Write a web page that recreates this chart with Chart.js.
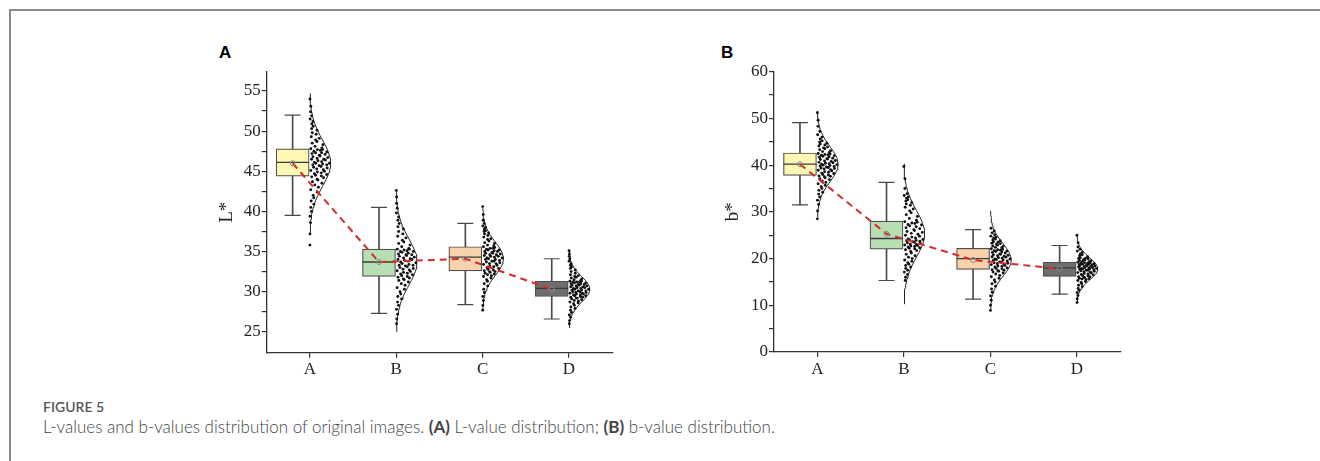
<!DOCTYPE html>
<html lang="en">
<head>
<meta charset="UTF-8">
<title>Figure 5 - L and b value distribution</title>
<script src="https://cdn.jsdelivr.net/npm/chart.js"></script>
<style>
  body { margin: 0; background: #fff; }
  .page { position: relative; width: 1320px; height: 461px; overflow: hidden; background: #fff; }
  .frame { position: absolute; left: 9px; top: 9px; width: 1330px; height: 480px;
           border-left: 2px solid #8a8a8a; border-top: 2px solid #8a8a8a; }
  canvas { position: absolute; }
  .panel { position: absolute; font: bold 17px "Liberation Sans", Arial, sans-serif; color: #000; }
  .fig { position: absolute; left: 43px; top: 398px; font: 600 14px Lato, sans-serif; color: #555; }
  .cap { position: absolute; left: 43px; top: 416px; font: 300 17px Lato, sans-serif; color: #444; white-space: nowrap; }
  .cap b { font-weight: 700; }
</style>
</head>
<body>
<div class="page">
  <div class="frame"></div>
  <div class="panel" style="left:219px; top:43px;">A</div>
  <div class="panel" style="left:721px; top:43px;">B</div>
  <canvas id="chartL" width="440" height="350" style="left:190px; top:40px;"></canvas>
  <canvas id="chartB" width="440" height="350" style="left:698px; top:40px;"></canvas>
  <div class="fig">FIGURE 5</div>
  <div class="cap">L-values and b-values distribution of original images. <b>(A)</b> L-value distribution; <b>(B)</b> b-value distribution.</div>
</div>

<script>
// groups on the x axis
const groups = ['A', 'B', 'C', 'D'];

// ---- L* panel: box statistics ----
const lTicks       = [25, 30, 35, 40, 45, 50, 55];
const lWhiskerLow  = [39.5, 27.3, 28.4, 26.6];
const lQ1          = [44.4, 31.9, 32.6, 29.4];
const lMedian      = [46.1, 33.7, 34.3, 30.4];
const lQ3          = [47.8, 35.3, 35.6, 31.3];
const lWhiskerHigh = [52.0, 40.5, 38.5, 34.1];
const lMean        = [46.0, 33.7, 34.1, 30.3];
const lSd          = [2.9, 2.9, 2.1, 1.6];

// L* raw points (estimated sample of each cloud)
const lPointsA = [35.8, 37.2, 38.6, 39.4, 40.0, 40.5, 40.9, 41.3, 41.7, 42.0, 42.4, 42.7, 43.0, 43.3, 43.5, 43.7, 43.9, 44.0, 44.2, 44.3,
  44.4, 44.5, 44.6, 44.7, 44.8, 44.9, 45.0, 45.1, 45.2, 45.3, 45.4, 45.5, 45.6, 45.7, 45.8, 45.8, 45.9, 46.0, 46.0, 46.1,
  46.2, 46.3, 46.4, 46.5, 46.5, 46.6, 46.7, 46.8, 46.9, 47.0, 47.1, 47.2, 47.3, 47.3, 47.4, 47.5, 47.6, 47.7, 47.7, 47.8,
  47.9, 48.1, 48.3, 48.5, 48.7, 48.9, 49.1, 49.3, 49.6, 49.8, 50.1, 50.3, 50.6, 50.9, 51.2, 51.5, 51.9, 52.4, 53.1, 54.0];
const lPointsB = [26.0, 26.6, 27.2, 27.8, 28.3, 28.7, 29.1, 29.4, 29.7, 30.0, 30.3, 30.5, 30.8, 31.0, 31.2, 31.4, 31.5, 31.6, 31.7, 31.8,
  31.9, 32.0, 32.1, 32.2, 32.3, 32.4, 32.5, 32.6, 32.7, 32.8, 32.9, 33.0, 33.1, 33.2, 33.3, 33.3, 33.4, 33.5, 33.6, 33.7,
  33.8, 33.9, 34.0, 34.0, 34.1, 34.2, 34.3, 34.4, 34.5, 34.6, 34.6, 34.7, 34.8, 34.9, 35.0, 35.0, 35.1, 35.2, 35.3, 35.3,
  35.4, 35.6, 35.8, 36.0, 36.2, 36.4, 36.7, 36.9, 37.2, 37.5, 37.8, 38.1, 38.5, 38.9, 39.3, 39.8, 40.4, 41.0, 41.8, 42.6];
const lPointsC = [27.7, 28.3, 28.9, 29.4, 29.9, 30.3, 30.7, 31.0, 31.3, 31.5, 31.7, 31.9, 32.0, 32.1, 32.2, 32.3, 32.4, 32.5, 32.5, 32.6,
  32.7, 32.8, 32.9, 33.0, 33.1, 33.2, 33.3, 33.4, 33.5, 33.5, 33.6, 33.7, 33.8, 33.8, 33.9, 34.0, 34.0, 34.1, 34.2, 34.2,
  34.3, 34.4, 34.4, 34.5, 34.6, 34.6, 34.7, 34.8, 34.8, 34.9, 35.0, 35.0, 35.1, 35.2, 35.2, 35.3, 35.4, 35.4, 35.5, 35.6,
  35.7, 35.8, 36.0, 36.1, 36.3, 36.5, 36.6, 36.8, 37.0, 37.2, 37.3, 37.5, 37.6, 37.8, 38.0, 38.2, 38.5, 38.9, 39.6, 40.6];
const lPointsD = [26.0, 26.4, 26.8, 27.1, 27.4, 27.7, 27.9, 28.1, 28.3, 28.5, 28.6, 28.7, 28.8, 28.9, 29.0, 29.1, 29.2, 29.2, 29.3, 29.3,
  29.4, 29.5, 29.5, 29.6, 29.6, 29.7, 29.7, 29.8, 29.8, 29.9, 29.9, 30.0, 30.0, 30.1, 30.1, 30.2, 30.2, 30.3, 30.3, 30.4,
  30.4, 30.5, 30.5, 30.6, 30.6, 30.7, 30.7, 30.8, 30.8, 30.9, 30.9, 31.0, 31.0, 31.1, 31.1, 31.2, 31.2, 31.2, 31.3, 31.3,
  31.4, 31.5, 31.6, 31.7, 31.8, 31.9, 32.0, 32.1, 32.3, 32.5, 32.7, 32.9, 33.1, 33.3, 33.5, 33.8, 34.1, 34.4, 34.7, 35.1];

// ---- b* panel ----
const bTicks       = [0, 10, 20, 30, 40, 50, 60];
const bWhiskerLow  = [31.5, 15.3, 11.3, 12.4];
const bQ1          = [37.8, 22.0, 17.7, 16.2];
const bMedian      = [40.2, 24.3, 20.0, 18.0];
const bQ3          = [42.6, 28.0, 22.2, 19.2];
const bWhiskerHigh = [49.1, 36.3, 26.2, 22.8];
const bMean        = [40.2, 25.3, 19.7, 17.8];
const bSd          = [3.8, 5.0, 3.5, 2.4];

const bPointsA = [28.5, 30.2, 31.6, 32.5, 33.2, 33.8, 34.2, 34.6, 35.0, 35.4, 35.7, 36.0, 36.3, 36.6, 36.9, 37.1, 37.3, 37.5, 37.6, 37.7,
  37.9, 38.0, 38.2, 38.3, 38.5, 38.6, 38.8, 38.9, 39.0, 39.2, 39.3, 39.4, 39.5, 39.6, 39.7, 39.8, 39.9, 40.0, 40.1, 40.2,
  40.3, 40.4, 40.5, 40.6, 40.8, 40.9, 41.0, 41.2, 41.3, 41.4, 41.5, 41.7, 41.8, 41.9, 42.0, 42.1, 42.2, 42.3, 42.4, 42.5,
  42.7, 42.9, 43.1, 43.3, 43.5, 43.7, 43.9, 44.1, 44.3, 44.5, 44.7, 44.9, 45.2, 45.6, 46.0, 46.5, 47.2, 48.3, 49.6, 51.2];
const bPointsB = [15.3, 16.0, 16.6, 17.1, 17.5, 17.9, 18.2, 18.5, 18.8, 19.1, 19.4, 19.7, 20.0, 20.3, 20.6, 20.9, 21.2, 21.5, 21.7, 21.9,
  22.1, 22.2, 22.3, 22.5, 22.6, 22.7, 22.8, 22.9, 23.0, 23.1, 23.3, 23.4, 23.5, 23.6, 23.7, 23.8, 23.9, 24.0, 24.1, 24.2,
  24.4, 24.6, 24.8, 25.0, 25.2, 25.4, 25.6, 25.8, 26.0, 26.2, 26.4, 26.6, 26.8, 27.0, 27.2, 27.3, 27.5, 27.6, 27.8, 27.9,
  28.2, 28.6, 29.0, 29.4, 29.8, 30.2, 30.6, 31.0, 31.4, 31.7, 32.0, 32.3, 32.6, 32.9, 33.2, 33.5, 33.9, 35.0, 37.1, 39.7];
const bPointsC = [8.9, 10.0, 11.1, 12.0, 12.8, 13.5, 14.1, 14.6, 15.0, 15.4, 15.8, 16.1, 16.4, 16.7, 16.9, 17.1, 17.3, 17.4, 17.5, 17.6,
  17.8, 17.9, 18.0, 18.2, 18.3, 18.4, 18.5, 18.7, 18.8, 18.9, 19.0, 19.1, 19.2, 19.3, 19.5, 19.6, 19.7, 19.8, 19.9, 19.9,
  20.1, 20.2, 20.3, 20.4, 20.5, 20.6, 20.7, 20.8, 20.9, 21.0, 21.2, 21.3, 21.4, 21.5, 21.6, 21.7, 21.8, 21.9, 22.0, 22.1,
  22.3, 22.4, 22.6, 22.7, 22.9, 23.0, 23.2, 23.3, 23.5, 23.6, 23.8, 24.0, 24.2, 24.4, 24.6, 24.8, 25.1, 25.5, 25.9, 26.5];
const bPointsD = [10.6, 11.4, 12.1, 12.7, 13.2, 13.6, 14.0, 14.3, 14.6, 14.9, 15.1, 15.3, 15.5, 15.6, 15.7, 15.8, 15.9, 16.0, 16.1, 16.1,
  16.3, 16.4, 16.5, 16.6, 16.7, 16.8, 16.9, 17.0, 17.1, 17.2, 17.3, 17.4, 17.5, 17.5, 17.6, 17.7, 17.8, 17.8, 17.9, 17.9,
  18.0, 18.1, 18.1, 18.2, 18.3, 18.3, 18.4, 18.5, 18.5, 18.6, 18.7, 18.7, 18.8, 18.8, 18.9, 19.0, 19.0, 19.1, 19.1, 19.2,
  19.3, 19.4, 19.5, 19.6, 19.7, 19.8, 19.9, 20.0, 20.1, 20.2, 20.4, 20.6, 20.8, 21.0, 21.3, 21.6, 22.0, 22.5, 23.4, 25.0];

// styling
const boxColors = ['#fcf8b4', '#b8deb4', '#f8d2aa', '#6e6e6e'];
const BOX_SHIFT = 0.2;      // box sits left of the category, cloud to the right
const CURVE_WIDTH = 0.24;   // half-violin max width in category units
const serif = '"Liberation Serif", "Times New Roman", serif';

// normal distribution curve drawn as a half violin to the right of the category
function curveData(i, m, sd) {
  const pts = [];
  for (let s = -3; s <= 3.0001; s += 0.1) {
    pts.push({ x: i + CURVE_WIDTH * Math.exp(-s * s / 2), y: m + s * sd });
  }
  return pts;
}

// van der Corput fraction, used for a fixed (non random) horizontal spread
function vdc(n) {
  let f = 0, d = 0.5;
  while (n > 0) { f += d * (n & 1); n >>= 1; d /= 2; }
  return f;
}

// dots spread between the category line and the curve
function cloudData(i, values, m, sd) {
  const n = values.length;
  return values.map((v, k) => {
    const u = 0.04 + 0.92 * vdc(((k * 29) % n) + 1);
    const z = (v - m) / sd;
    return { x: i + u * CURVE_WIDTH * Math.exp(-z * z / 2), y: v };
  });
}

// major ticks from the label list plus a minor tick half way between them
function tickList(major) {
  const out = [];
  major.forEach((v, k) => {
    out.push({ value: v });
    if (k < major.length - 1) out.push({ value: (v + major[k + 1]) / 2 });
  });
  return out;
}

function makeChart(id, s) {
  const datasets = [];
  // whiskers (thin bar from low to high)
  datasets.push({
    type: 'bar', order: 6, grouped: false, barThickness: 1,
    data: groups.map((g, i) => ({ x: i - BOX_SHIFT, y: [s.lo[i], s.hi[i]] })),
    backgroundColor: '#4a4a4a', borderWidth: 0
  });
  // boxes
  datasets.push({
    type: 'bar', order: 5, grouped: false, barThickness: 33,
    data: groups.map((g, i) => ({ x: i - BOX_SHIFT, y: [s.q1[i], s.q3[i]] })),
    backgroundColor: boxColors, borderColor: '#4f4f4f', borderWidth: 1.2, borderSkipped: false
  });
  // whisker caps
  datasets.push({
    type: 'scatter', order: 4,
    data: groups.flatMap((g, i) => [{ x: i - BOX_SHIFT, y: s.lo[i] }, { x: i - BOX_SHIFT, y: s.hi[i] }]),
    pointStyle: 'line', pointRadius: 8, borderColor: '#4a4a4a', borderWidth: 1.2
  });
  // medians
  datasets.push({
    type: 'scatter', order: 4,
    data: groups.map((g, i) => ({ x: i - BOX_SHIFT, y: s.med[i] })),
    pointStyle: 'line', pointRadius: 16.5, borderColor: '#3a3a3a', borderWidth: 1.3
  });
  // distribution curves
  groups.forEach((g, i) => {
    datasets.push({
      type: 'line', order: 3, data: curveData(i, s.mean[i], s.sd[i]),
      borderColor: '#222', borderWidth: 1, pointRadius: 0, tension: 0, fill: false
    });
  });
  // raw points
  datasets.push({
    type: 'scatter', order: 2,
    data: groups.flatMap((g, i) => cloudData(i, s.points[i], s.mean[i], s.sd[i])),
    pointRadius: 1.45, backgroundColor: '#111', borderWidth: 0
  });
  // mean line
  datasets.push({
    type: 'line', order: 1,
    data: groups.map((g, i) => ({ x: i - BOX_SHIFT, y: s.mean[i] })),
    borderColor: '#d82a2a', borderWidth: 2, borderDash: [7, 5], tension: 0, fill: false,
    pointRadius: 2.5, pointBorderColor: '#8a8a8a', pointBorderWidth: 1, pointBackgroundColor: 'rgba(0,0,0,0)'
  });

  return new Chart(document.getElementById(id), {
    type: 'scatter',
    data: { datasets },
    options: {
      responsive: false,
      animation: false,
      layout: { padding: s.padding },
      plugins: { legend: { display: false }, tooltip: { enabled: false } },
      scales: {
        x: {
          type: 'linear', min: -0.5, max: 3.5, offset: false,
          afterFit: sc => { sc.height = s.xHeight; },
          afterBuildTicks: sc => { sc.ticks = groups.map((g, i) => ({ value: i })); },
          grid: { offset: false, drawOnChartArea: false, drawTicks: true, tickLength: 5, color: '#333', lineWidth: 1.2 },
          border: { display: true, color: '#333', width: 1.3 },
          ticks: {
            autoSkip: false, padding: 2, color: '#222',
            font: { family: serif, size: 17 },
            callback: v => groups[Math.round(v)]
          }
        },
        y: {
          min: s.min, max: s.max,
          afterFit: sc => { sc.width = s.yWidth; },
          afterBuildTicks: sc => { sc.ticks = tickList(s.ticks); },
          grid: { drawOnChartArea: false, drawTicks: true, tickLength: 5, color: '#333', lineWidth: 1.2 },
          border: { display: true, color: '#333', width: 1.3 },
          title: { display: true, text: s.title, color: '#222', font: { family: serif, size: 19 }, padding: { top: 2, bottom: 0 } },
          ticks: {
            autoSkip: false, padding: 1, color: '#222',
            font: { family: serif, size: 17 },
            callback: v => (s.ticks.includes(v) ? String(v) : '')
          }
        }
      }
    }
  });
}

makeChart('chartL', {
  title: 'L*', min: 22.4, max: 57.4, ticks: lTicks,
  lo: lWhiskerLow, q1: lQ1, med: lMedian, q3: lQ3, hi: lWhiskerHigh, mean: lMean, sd: lSd,
  points: [lPointsA, lPointsB, lPointsC, lPointsD],
  padding: { left: 24, top: 31.7, right: 16.7, bottom: 0 }, yWidth: 52.7, xHeight: 37.3
});

makeChart('chartB', {
  title: 'b*', min: 0, max: 60, ticks: bTicks,
  lo: bWhiskerLow, q1: bQ1, med: bMedian, q3: bQ3, hi: bWhiskerHigh, mean: bMean, sd: bSd,
  points: [bPointsA, bPointsB, bPointsC, bPointsD],
  padding: { left: 22, top: 31.7, right: 17.3, bottom: 0 }, yWidth: 54, xHeight: 38
});
</script>
</body>
</html>
